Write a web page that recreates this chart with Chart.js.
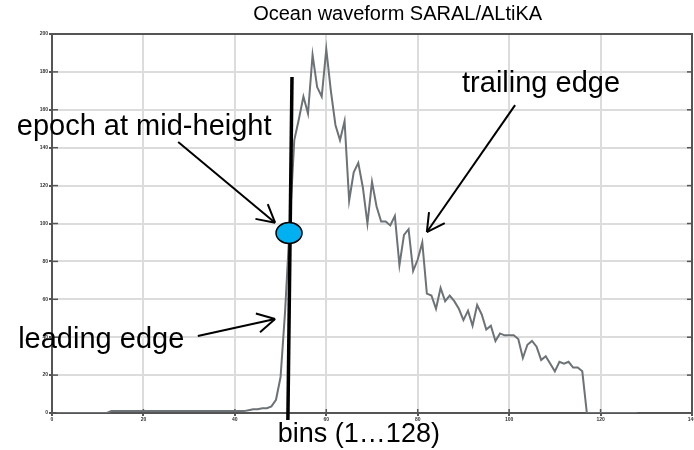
<!DOCTYPE html>
<html>
<head>
<meta charset="utf-8">
<script src="https://cdn.jsdelivr.net/npm/chart.js"></script>
<style>
  body { margin: 0; background: #fff; }
  #wrap { width: 694px; height: 450px; }
</style>
</head>
<body>
<div id="wrap"><canvas id="wave"></canvas></div>
<script>
// waveform power per bin (bins 1..128)
const power = [
  0, 0, 0, 0, 0, 0, 0, 0, 0, 0, 0, 0,
  1, 1, 1, 1, 1, 1, 1, 1, 1, 1, 1, 1, 1, 1, 1, 1, 1, 1,
  1, 1, 1, 1, 1, 1, 1, 1, 1, 1, 1, 1,
  1.5, 2, 2, 2.5, 2.5, 3.5, 7, 19, 54, 99,
  144, 155, 167, 158, 189, 172, 167, 192, 170, 152,
  144, 154, 112, 127, 132, 119, 100, 122, 109, 101,
  101, 99, 104, 78, 94, 97, 75, 81, 90, 63,
  62, 55, 66, 59, 62, 59, 55, 49, 54, 46,
  57, 52, 44, 46, 38, 42, 41, 41, 41, 39,
  29, 36, 38, 35, 28, 30, 26, 22, 27, 26,
  27, 24, 24, 22,
  0, 0, 0, 0, 0, 0, 0, 0, 0, 0, 0, 0
];
const xTicks = [0, 20, 40, 60, 80, 100, 120, 140];
const yTicks = [0, 20, 40, 60, 80, 100, 120, 140, 160, 180, 200];

// annotations, in data units
const notes = [
  { text: 'Ocean waveform SARAL/ALtiKA', x: 44, y: 207.4, size: 20 },
  { text: 'epoch at mid-height', x: -7.7, y: 146.7, size: 29 },
  { text: 'trailing edge', x: 89.7, y: 169.4, size: 29 },
  { text: 'leading edge', x: -7.4, y: 34.3, size: 29 },
  { text: 'bins (1\u2026128)', x: 49.4, y: -15.3, size: 27 }
];
const arrows = [
  [27.6, 143, 48.8, 100.4],
  [101.3, 162.5, 82.0, 95.5],
  [31.9, 40.6, 48.8, 49.6]
];
const epochLine = [52.5, 177.3, 51.6, -3.7];
const epochDot = [51.85, 95];

const FONT = "'Liberation Sans', Arial, sans-serif";

function seg(ctx, x1, y1, x2, y2) {
  ctx.beginPath(); ctx.moveTo(x1, y1); ctx.lineTo(x2, y2); ctx.stroke();
}

const frame = {
  id: 'frame',
  beforeDatasetsDraw(chart) {
    const { ctx, chartArea: a, scales: { x, y } } = chart;
    ctx.save();
    ctx.strokeStyle = '#555';
    ctx.lineWidth = 2;
    ctx.strokeRect(a.left, a.top, a.right - a.left, a.bottom - a.top);
    ctx.lineWidth = 1.5;
    y.ticks.forEach(t => {
      const yy = y.getPixelForValue(t.value);
      seg(ctx, a.left, yy, a.left + 6, yy);
      seg(ctx, a.right - 5, yy, a.right, yy);
    });
    x.ticks.forEach(t => {
      const xx = x.getPixelForValue(t.value);
      seg(ctx, xx, a.bottom, xx, a.bottom - 4);
    });
    ctx.restore();
  }
};

const overlay = {
  id: 'overlay',
  afterDatasetsDraw(chart) {
    const { ctx, scales: { x, y } } = chart;
    const px = v => x.getPixelForValue(v), py = v => y.getPixelForValue(v);
    ctx.save();
    ctx.strokeStyle = '#000';
    ctx.lineCap = 'butt';

    // epoch marker line
    ctx.lineWidth = 3.5;
    seg(ctx, px(epochLine[0]), py(epochLine[1]), px(epochLine[2]), py(epochLine[3]));

    // blue dot
    ctx.beginPath();
    ctx.ellipse(px(epochDot[0]), py(epochDot[1]), 13, 10.5, 0, 0, Math.PI * 2);
    ctx.fillStyle = '#00b0f0';
    ctx.fill();
    ctx.lineWidth = 1.5;
    ctx.stroke();

    // arrows
    ctx.lineWidth = 2;
    arrows.forEach(([x1, y1, x2, y2]) => {
      const ax = px(x1), ay = py(y1), bx = px(x2), by = py(y2);
      seg(ctx, ax, ay, bx, by);
      const ang = Math.atan2(by - ay, bx - ax);
      [-0.5, 0.5].forEach(d => {
        seg(ctx, bx, by, bx - 20 * Math.cos(ang + d), by - 20 * Math.sin(ang + d));
      });
    });

    // texts
    ctx.fillStyle = '#000';
    ctx.textBaseline = 'alphabetic';
    ctx.textAlign = 'left';
    notes.forEach(n => {
      ctx.font = n.size + 'px ' + FONT;
      ctx.fillText(n.text, px(n.x), py(n.y));
    });
    ctx.restore();
  }
};

new Chart(document.getElementById('wave'), {
  type: 'line',
  data: {
    datasets: [{
      data: power.map((v, i) => ({ x: i + 1, y: v })),
      borderColor: '#6c7276',
      borderWidth: 2,
      pointRadius: 0,
      tension: 0,
      fill: false
    }]
  },
  options: {
    responsive: true,
    maintainAspectRatio: false,
    animation: false,
    layout: { padding: { top: 34, right: 2, left: 0, bottom: 0 } },
    plugins: { legend: { display: false }, tooltip: { enabled: false } },
    scales: {
      x: {
        type: 'linear',
        min: 0, max: 140,
        afterBuildTicks: s => { s.ticks = xTicks.map(v => ({ value: v })); },
        afterFit: s => { s.height = 37; s.paddingLeft = 0; s.paddingRight = 0; },
        ticks: { font: { size: 5, weight: 'bold', family: FONT }, color: '#333', padding: 1, maxRotation: 0, autoSkip: false },
        grid: { color: '#dcdcdc', lineWidth: 2, tickLength: 3, tickColor: '#555' },
        border: { color: '#555', width: 2 }
      },
      y: {
        min: 0, max: 200,
        afterBuildTicks: s => { s.ticks = yTicks.map(v => ({ value: v })); },
        afterFit: s => { s.width = 52; s.paddingTop = 0; s.paddingBottom = 0; },
        ticks: { font: { size: 5, weight: 'bold', family: FONT }, color: '#333', padding: 1 },
        grid: { color: '#dcdcdc', lineWidth: 2, tickLength: 3, tickColor: '#555' },
        border: { color: '#555', width: 2 }
      }
    }
  },
  plugins: [frame, overlay]
});
</script>
</body>
</html>
